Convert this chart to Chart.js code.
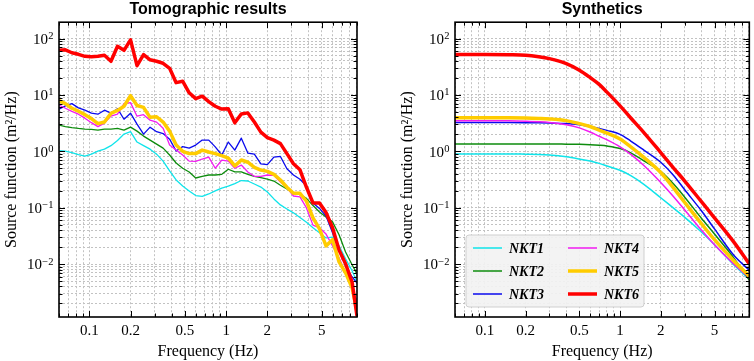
<!DOCTYPE html>
<html>
<head>
<meta charset="utf-8">
<script src="https://cdn.jsdelivr.net/npm/chart.js@4.4.1/dist/chart.umd.min.js"></script>
<style>
  body { margin: 0; background: #fff; }
  #wrap { display: flex; width: 754px; height: 361px; }
  canvas { display: block; }
</style>
</head>
<body>
<div id="wrap">
  <canvas id="tomo" width="377" height="361"></canvas>
  <canvas id="synth" width="377" height="361"></canvas>
</div>
<script>
// station names + look
var names  = ['NKT1', 'NKT2', 'NKT3', 'NKT4', 'NKT5', 'NKT6'];
var colors = ['#10e4ea', '#0e8c0e', '#0a0aee', '#f21cf2', '#ffcc00', '#ff0000'];
var widths = [1.3, 1.3, 1.3, 1.3, 3.5, 3.5];

// left panel: tomographic source functions (m^2/Hz)
var tomoFreq = [0.06, 0.0668, 0.0745, 0.0832, 0.0928, 0.1035, 0.1155, 0.1289, 0.1439, 0.1606,
  0.1792, 0.2, 0.2231, 0.249, 0.278, 0.3102, 0.3461, 0.3862, 0.431, 0.481,
  0.5368, 0.599, 0.6685, 0.746, 0.8325, 0.929, 1.037, 1.157, 1.291, 1.441,
  1.608, 1.794, 2.002, 2.234, 2.493, 2.782, 3.105, 3.465, 3.866, 4.314,
  4.815, 5.373, 5.996, 6.691, 7.466, 8.332, 9.05];
var tomo1 = [1.03, 1.01, 0.95, 0.87, 0.82, 0.89, 1.01, 1.09, 1.26, 1.55,
  2.02, 2.23, 1.46, 1.26, 1.09, 0.89, 0.67, 0.45, 0.31, 0.242,
  0.198, 0.164, 0.158, 0.175, 0.198, 0.223, 0.242, 0.268, 0.303, 0.297,
  0.263, 0.232, 0.19, 0.143, 0.112, 0.095, 0.081, 0.067, 0.055, 0.044,
  0.036, 0.029, 0.03, 0.021, 0.0124, 0.0076, 0.0048];
var tomo2 = [2.91, 2.74, 2.63, 2.54, 2.47, 2.44, 2.37, 2.47, 2.47, 2.54,
  2.37, 2.68, 2.28, 1.86, 1.58, 1.34, 1.14, 0.86, 0.62, 0.5,
  0.43, 0.336, 0.36, 0.38, 0.38, 0.39, 0.48, 0.43, 0.43, 0.39,
  0.36, 0.34, 0.32, 0.297, 0.25, 0.214, 0.18, 0.171, 0.146, 0.109,
  0.084, 0.068, 0.056, 0.033, 0.0164, 0.0097, 0.0067];
var tomo3 = [5.6, 6.4, 7.0, 5.9, 5.36, 4.74, 4.55, 5.36, 4.74, 5.7,
  3.7, 4.74, 3.03, 2.02, 2.68, 2.23, 2.06, 1.64, 1.01, 1.21,
  1.14, 1.29, 1.58, 1.58, 1.2, 0.86, 1.46, 1.05, 1.71, 0.93,
  0.89, 0.6, 0.58, 0.79, 0.81, 0.49, 0.38, 0.32, 0.242, 0.121,
  0.097, 0.071, 0.036, 0.0178, 0.0093, 0.0059, 0.0046];
var tomo4 = [6.6, 5.8, 5.1, 4.55, 3.87, 3.22, 2.74, 3.16, 4.2, 4.55,
  7.0, 7.3, 4.2, 4.47, 3.57, 3.29, 2.57, 1.29, 1.05, 0.86,
  0.67, 0.66, 0.73, 0.79, 0.5, 0.7, 0.67, 0.5, 0.57, 0.43,
  0.36, 0.36, 0.38, 0.375, 0.285, 0.228, 0.161, 0.155, 0.099, 0.049,
  0.044, 0.034, 0.021, 0.0129, 0.007, 0.0041, 0.0021];
var tomo5 = [7.9, 7.0, 5.8, 5.15, 4.47, 3.8, 3.1, 3.3, 4.7, 5.3,
  6.3, 9.7, 6.5, 6.0, 4.0, 4.1, 3.3, 2.28, 1.29, 1.0,
  0.91, 0.91, 1.05, 0.97, 0.91, 0.84, 0.76, 0.55, 0.7, 0.64,
  0.52, 0.465, 0.44, 0.39, 0.31, 0.23, 0.18, 0.18, 0.13, 0.066,
  0.042, 0.021, 0.027, 0.0109, 0.007, 0.0038, 0.00143];
var tomo6 = [62, 63, 56, 52.5, 48.4, 47.5, 48.4, 50.4, 39.5, 72.8,
  61.8, 94.8, 33, 52, 42, 39.5, 36.4, 29.7, 16.5, 17.5,
  10.9, 8.6, 9.5, 7.6, 6.3, 5.6, 5.7, 3.2, 4.6, 4.8,
  3.3, 2.19, 1.75, 1.58, 1.37, 0.91, 0.6, 0.47, 0.23, 0.121,
  0.121, 0.082, 0.044, 0.0178, 0.0101, 0.0048, 0.0012];

// right panel: synthetic spectra
var synFreq = [0.06, 0.08, 0.1, 0.15, 0.2, 0.25, 0.3, 0.4, 0.5, 0.6, 0.7, 0.8,
  1, 1.2, 1.5, 2, 2.5, 3, 4, 5, 7, 9.05];
var syn1 = [0.9, 0.9, 0.9, 0.9, 0.89, 0.88, 0.86, 0.8, 0.73, 0.67, 0.61, 0.55,
  0.46, 0.37, 0.26, 0.15, 0.097, 0.068, 0.037, 0.022, 0.0095, 0.0054];
var syn2 = [1.35, 1.35, 1.35, 1.35, 1.35, 1.35, 1.35, 1.34, 1.33, 1.31, 1.28, 1.24,
  1.12, 0.94, 0.68, 0.44, 0.26, 0.155, 0.065, 0.034, 0.0125, 0.0052];
var syn3 = [3.25, 3.25, 3.25, 3.24, 3.22, 3.2, 3.17, 3.1, 2.95, 2.75, 2.55, 2.35,
  2.0, 1.52, 1.05, 0.64, 0.37, 0.21, 0.088, 0.042, 0.014, 0.0078];
var syn4 = [3.5, 3.5, 3.5, 3.48, 3.42, 3.35, 3.25, 2.95, 2.6, 2.2, 1.85, 1.6,
  1.2, 0.88, 0.56, 0.28, 0.155, 0.092, 0.04, 0.022, 0.0098, 0.0057];
var syn5 = [3.95, 3.95, 3.95, 3.94, 3.9, 3.83, 3.75, 3.5, 3.1, 2.75, 2.38, 2.1,
  1.65, 1.2, 0.78, 0.42, 0.22, 0.125, 0.052, 0.027, 0.0112, 0.0061];
var syn6 = [52, 52, 52, 51.5, 50.5, 47.5, 44, 36, 27.5, 20.4, 15.4, 11.2,
  6.4, 3.9, 2.15, 0.95, 0.5, 0.3, 0.128, 0.066, 0.024, 0.01];

// axes
var xTicks = [0.06, 0.07, 0.08, 0.09, 0.1, 0.2, 0.3, 0.4, 0.5, 0.6, 0.7, 0.8, 0.9,
  1, 2, 3, 4, 5, 6, 7, 8, 9];
var xLabels = [0.1, 0.2, 0.5, 1, 2, 5];
var yTicks = [0.002, 0.003, 0.004, 0.005, 0.006, 0.007, 0.008, 0.009,
  0.01, 0.02, 0.03, 0.04, 0.05, 0.06, 0.07, 0.08, 0.09,
  0.1, 0.2, 0.3, 0.4, 0.5, 0.6, 0.7, 0.8, 0.9,
  1, 2, 3, 4, 5, 6, 7, 8, 9,
  10, 20, 30, 40, 50, 60, 70, 80, 90, 100];
var yLabels = [0.01, 0.1, 1, 10, 100];

function isDecade(v) {
  var l = Math.log10(v);
  return Math.abs(l - Math.round(l)) < 1e-6;
}

// frame, inward ticks, 10^n labels, optional legend
var framePlugin = {
  id: 'frame',
  afterDraw: function(chart, args, opts) {
    var ctx = chart.ctx, a = chart.chartArea;
    var x = chart.scales.x, y = chart.scales.y;
    ctx.save();
    ctx.strokeStyle = '#000';
    ctx.lineWidth = 1;
    ctx.beginPath();
    xTicks.forEach(function(v) {
      var px = Math.round(x.getPixelForValue(v)) + 0.5;
      var len = (isDecade(v) || xLabels.indexOf(v) >= 0) ? 6 : 3.5;
      ctx.moveTo(px, a.bottom); ctx.lineTo(px, a.bottom - len);
      ctx.moveTo(px, a.top); ctx.lineTo(px, a.top + len);
    });
    yTicks.forEach(function(v) {
      var py = Math.round(y.getPixelForValue(v)) + 0.5;
      var len = isDecade(v) ? 6 : 3.5;
      ctx.moveTo(a.left, py); ctx.lineTo(a.left + len, py);
      ctx.moveTo(a.right, py); ctx.lineTo(a.right - len, py);
    });
    ctx.stroke();
    ctx.lineWidth = 1.6;
    ctx.strokeRect(a.left, a.top, a.right - a.left, a.bottom - a.top);

    // y labels as 10 with a raised exponent
    ctx.fillStyle = '#000';
    ctx.textBaseline = 'alphabetic';
    yLabels.forEach(function(v) {
      var py = y.getPixelForValue(v);
      var e = Math.round(Math.log10(v));
      var es = e < 0 ? '\u2212' + (-e) : String(e);
      ctx.font = '10.5px "Liberation Serif"';
      var ew = ctx.measureText(es).width;
      var xr = a.left - 5.5;
      ctx.textAlign = 'left';
      ctx.fillText(es, xr - ew, py + 0.5);
      ctx.font = '15px "Liberation Serif"';
      ctx.textAlign = 'right';
      ctx.fillText('10', xr - ew - 0.3, py + 5.3);
    });

    if (opts && opts.legend) {
      var bx = a.left + 11, by = a.bottom - 82, bw = 178, bh = 72;
      ctx.beginPath();
      ctx.roundRect(bx, by, bw, bh, 3);
      ctx.fillStyle = 'rgba(242,242,242,0.92)';
      ctx.fill();
      ctx.lineWidth = 1;
      ctx.strokeStyle = '#cfcfcf';
      ctx.stroke();
      ctx.font = 'bold italic 14px "Liberation Serif"';
      ctx.textAlign = 'left';
      ctx.textBaseline = 'middle';
      chart.data.datasets.forEach(function(ds, i) {
        var col = Math.floor(i / 3), row = i % 3;
        var lx = bx + 7 + col * 95;
        var ly = by + 13 + row * 23;
        ctx.beginPath();
        ctx.strokeStyle = ds.borderColor;
        ctx.lineWidth = ds.borderWidth;
        ctx.moveTo(lx, ly); ctx.lineTo(lx + 29, ly);
        ctx.stroke();
        ctx.fillStyle = '#000';
        ctx.fillText(ds.label, lx + 36, ly + 1);
      });
    }
    ctx.restore();
  }
};

function makeChart(id, freq, series, title, padLeft, padRight, showLegend, thin) {
  var datasets = series.map(function(vals, i) {
    return {
      label: names[i],
      data: freq.map(function(f, k) { return {x: f, y: vals[k]}; }),
      borderColor: colors[i],
      borderWidth: widths[i] > 2 ? widths[i] : thin,
      pointRadius: 0,
      borderJoinStyle: 'round',
      cubicInterpolationMode: showLegend ? 'monotone' : 'default',
      order: 5 - i
    };
  });
  return new Chart(document.getElementById(id), {
    type: 'line',
    data: {datasets: datasets},
    plugins: [framePlugin],
    options: {
      responsive: false,
      animation: false,
      devicePixelRatio: 1,
      layout: {padding: {left: padLeft, right: padRight, top: 0, bottom: 0}},
      plugins: {
        legend: {display: false},
        tooltip: {enabled: false},
        title: {
          display: true, text: title, color: '#000', fullSize: false,
          font: {family: 'Liberation Sans', size: 16, weight: 'bold'},
          padding: {top: 0, bottom: 3}
        },
        frame: {legend: showLegend}
      },
      scales: {
        x: {
          type: 'logarithmic', min: 0.06, max: 9.05,
          afterBuildTicks: function(s) { s.ticks = xTicks.map(function(v) { return {value: v}; }); },
          afterFit: function(s) { s.height = 44; },
          ticks: {
            autoSkip: false, maxRotation: 0, padding: 5, color: '#000',
            font: {family: 'Liberation Serif', size: 15},
            callback: function(v) { return xLabels.indexOf(v) >= 0 ? String(v) : ''; }
          },
          grid: {color: '#c2c2c2', lineWidth: 1, drawTicks: false},
          border: {display: false, dash: [2, 2]},
          title: {display: true, text: 'Frequency (Hz)', color: '#000',
            font: {family: 'Liberation Serif', size: 16}, padding: {top: 0, bottom: 0}}
        },
        y: {
          type: 'logarithmic', min: 0.00115, max: 195,
          afterBuildTicks: function(s) { s.ticks = yTicks.map(function(v) { return {value: v}; }); },
          afterFit: function(s) { s.width = 59; },
          ticks: {display: false},
          grid: {color: '#c2c2c2', lineWidth: 1, drawTicks: false},
          border: {display: false, dash: [2, 2]},
          title: {display: true, text: 'Source function (m\u00b2/Hz)', color: '#000',
            font: {family: 'Liberation Serif', size: 16}, padding: {top: 2, bottom: 0}}
        }
      }
    }
  });
}

makeChart('tomo', tomoFreq, [tomo1, tomo2, tomo3, tomo4, tomo5, tomo6],
  'Tomographic results', 0, 20, false, 1.3);
makeChart('synth', synFreq, [syn1, syn2, syn3, syn4, syn5, syn6],
  'Synthetics', 19, 3, true, 1.5);
</script>
</body>
</html>
